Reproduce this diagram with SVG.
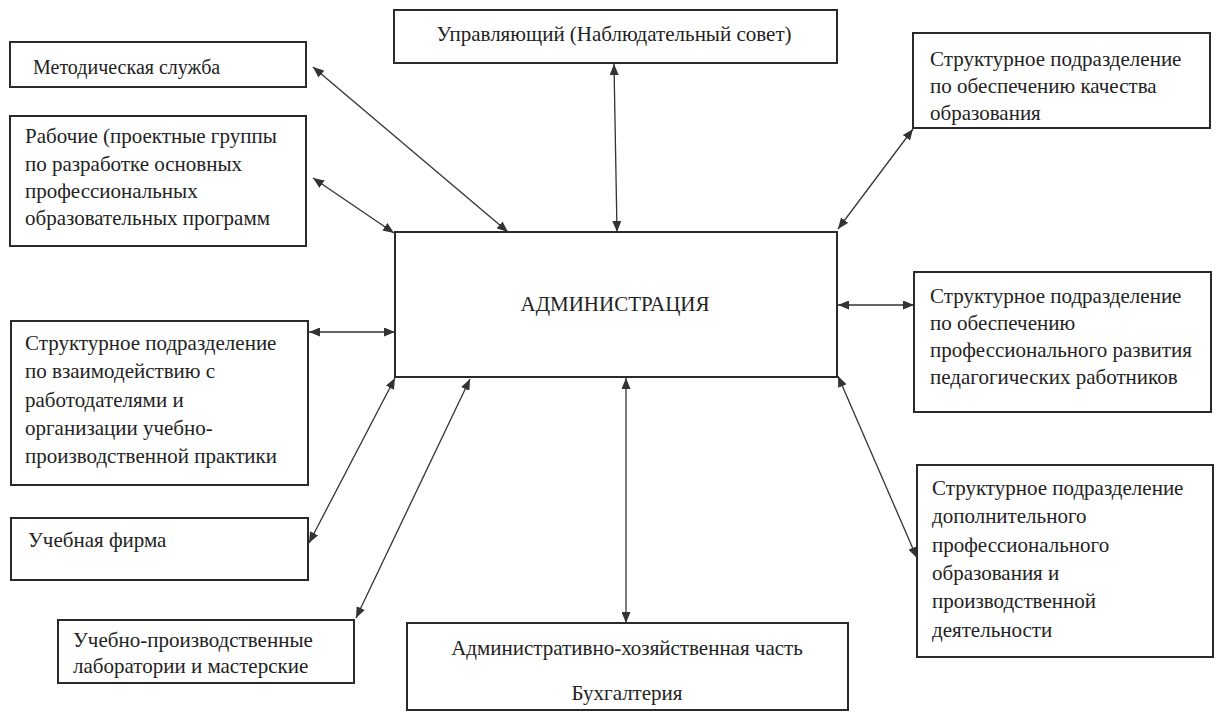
<svg xmlns="http://www.w3.org/2000/svg" width="1218" height="713" viewBox="0 0 1218 713">
<style>
.box{fill:#fff;stroke:#2a2a2a;stroke-width:2}
text{font-family:'Liberation Serif','DejaVu Serif',serif;font-size:21px;fill:#222}
.c{text-anchor:middle}
.ln{stroke:#333;stroke-width:1.3;fill:none;marker-start:url(#ah);marker-end:url(#ah)}
</style>
<defs>
<marker id="ah" markerUnits="userSpaceOnUse" markerWidth="11" markerHeight="9" refX="11" refY="4.5" orient="auto-start-reverse">
<path d="M0,0 L11,4.5 L0,9 z" fill="#333"/>
</marker>
</defs>
<rect width="1218" height="713" fill="#fff"/>
<g id="connectors">
<line class="ln" x1="313" y1="67" x2="508" y2="232"/>
<line class="ln" x1="313" y1="178" x2="394" y2="233"/>
<line class="ln" x1="614" y1="64" x2="617" y2="232"/>
<line class="ln" x1="309" y1="332" x2="395" y2="332"/>
<line class="ln" x1="395" y1="378" x2="309" y2="543"/>
<line class="ln" x1="470" y1="379" x2="356" y2="618"/>
<line class="ln" x1="626" y1="378" x2="626" y2="623"/>
<line class="ln" x1="913" y1="129" x2="838" y2="229"/>
<line class="ln" x1="838" y1="305" x2="914" y2="305"/>
<line class="ln" x1="838" y1="376" x2="917" y2="558"/>
</g>
<g id="admin">
<rect class="box" x="395" y="232" width="442" height="145"/>
<text class="c" x="615" y="311">АДМИНИСТРАЦИЯ</text>
</g>
<g id="upravl">
<rect class="box" x="394" y="10" width="443" height="53"/>
<text class="c" x="614" y="41">Управляющий (Наблюдательный совет)</text>
</g>
<g id="metod">
<rect class="box" x="10" y="42" width="296" height="45"/>
<text x="33" y="74" style="font-size:20px">Методическая служба</text>
</g>
<g id="rabochie">
<rect class="box" x="10" y="116" width="296" height="130"/>
<text x="25" y="143">Рабочие (проектные группы</text>
<text x="25" y="171">по разработке основных</text>
<text x="25" y="198">профессиональных</text>
<text x="25" y="225">образовательных программ</text>
</g>
<g id="vzaimod">
<rect class="box" x="11" y="321" width="297" height="164"/>
<text x="25" y="350">Структурное подразделение</text>
<text x="25" y="378">по взаимодействию с</text>
<text x="25" y="407">работодателями и</text>
<text x="25" y="435">организации учебно-</text>
<text x="25" y="463">производственной практики</text>
</g>
<g id="firma">
<rect class="box" x="11" y="518" width="297" height="62"/>
<text x="28" y="547">Учебная фирма</text>
</g>
<g id="labs">
<rect class="box" x="58" y="620" width="296" height="63"/>
<text x="73" y="647">Учебно-производственные</text>
<text x="73" y="673">лаборатории и мастерские</text>
</g>
<g id="ahch">
<rect class="box" x="407" y="623" width="441" height="87"/>
<text class="c" x="627" y="655">Административно-хозяйственная часть</text>
<text class="c" x="627" y="700">Бухгалтерия</text>
</g>
<g id="kachestvo">
<rect class="box" x="913" y="33" width="297" height="95"/>
<text x="930" y="66">Структурное подразделение</text>
<text x="930" y="93">по обеспечению качества</text>
<text x="930" y="120">образования</text>
</g>
<g id="razvitie">
<rect class="box" x="914" y="272" width="297" height="140"/>
<text x="930" y="303">Структурное подразделение</text>
<text x="930" y="330">по обеспечению</text>
<text x="930" y="357">профессионального развития</text>
<text x="930" y="384">педагогических работников</text>
</g>
<g id="dop">
<rect class="box" x="917" y="465" width="296" height="192"/>
<text x="932" y="495">Структурное подразделение</text>
<text x="932" y="523">дополнительного</text>
<text x="932" y="552">профессионального</text>
<text x="932" y="580">образования и</text>
<text x="932" y="608">производственной</text>
<text x="932" y="637">деятельности</text>
</g>
</svg>
